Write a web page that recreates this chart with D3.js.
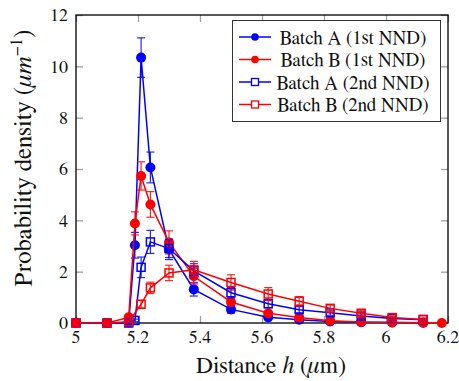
<!DOCTYPE html>
<html>
<head>
<meta charset="utf-8">
<script src="https://cdn.jsdelivr.net/npm/d3@7"></script>
<style>
  html, body { margin: 0; padding: 0; background: #fff; }
  svg { display: block; }
</style>
</head>
<body>
<svg id="chart" width="459" height="381"></svg>
<script>
// Nearest-neighbour distance distributions (probability density, 1/um)
const xTicks = [5, 5.2, 5.4, 5.6, 5.8, 6, 6.2];
const yTicks = [0, 2, 4, 6, 8, 10, 12];

const batchA1stX = [5.0, 5.1, 5.17, 5.19, 5.21, 5.24, 5.30, 5.38, 5.50, 5.62, 5.72, 5.82, 5.92, 6.02, 6.12];
const batchA1stY = [0, 0, 0.02, 3.03, 10.34, 6.06, 2.87, 1.31, 0.53, 0.22, 0.13, 0.06, 0.03, 0.02, 0.01];
const batchA1stErr = [0, 0, 0.05, 0.5, 0.77, 0.6, 0.4, 0.26, 0.15, 0.08, 0.05, 0.03, 0.02, 0.01, 0.01];

const batchB1stX = [5.0, 5.1, 5.17, 5.19, 5.21, 5.24, 5.30, 5.38, 5.50, 5.62, 5.72, 5.82, 5.92, 6.02, 6.12, 6.18];
const batchB1stY = [0, 0, 0.22, 3.88, 5.73, 4.62, 3.14, 1.82, 0.82, 0.38, 0.21, 0.09, 0.04, 0.02, 0.01, 0];
const batchB1stErr = [0, 0, 0.1, 0.45, 0.55, 0.5, 0.45, 0.3, 0.15, 0.08, 0.05, 0.03, 0.02, 0.01, 0.01, 0];

const batchA2ndX = [5.0, 5.1, 5.17, 5.19, 5.21, 5.24, 5.30, 5.38, 5.50, 5.62, 5.72, 5.82, 5.92, 6.02, 6.12];
const batchA2ndY = [0, 0, 0, 0.1, 2.17, 3.16, 2.9, 2.03, 1.18, 0.75, 0.52, 0.4, 0.27, 0.18, 0.13];
const batchA2ndErr = [0, 0, 0.02, 0.05, 0.4, 0.45, 0.35, 0.28, 0.2, 0.15, 0.12, 0.1, 0.08, 0.06, 0.05];

const batchB2ndX = [5.0, 5.1, 5.17, 5.21, 5.24, 5.30, 5.38, 5.50, 5.62, 5.72, 5.82, 5.92, 6.02, 6.12];
const batchB2ndY = [0, 0, 0.05, 0.73, 1.37, 1.95, 2.07, 1.58, 1.13, 0.85, 0.57, 0.38, 0.21, 0.14];
const batchB2ndErr = [0, 0, 0.03, 0.15, 0.22, 0.3, 0.33, 0.3, 0.25, 0.18, 0.13, 0.1, 0.07, 0.05];

const seriesNames = ["Batch A (1st NND)", "Batch B (1st NND)", "Batch A (2nd NND)", "Batch B (2nd NND)"];

const series = [
  { name: seriesNames[0], xs: batchA1stX, ys: batchA1stY, es: batchA1stErr, color: "#0000ff", marker: "circle" },
  { name: seriesNames[1], xs: batchB1stX, ys: batchB1stY, es: batchB1stErr, color: "#ff0000", marker: "circle" },
  { name: seriesNames[2], xs: batchA2ndX, ys: batchA2ndY, es: batchA2ndErr, color: "#0000ff", marker: "square" },
  { name: seriesNames[3], xs: batchB2ndX, ys: batchB2ndY, es: batchB2ndErr, color: "#ff0000", marker: "square" }
];

const FONT = "FreeSerif, 'Nimbus Roman', 'Times New Roman', serif";
const plot = { left: 76, right: 448, top: 15, bottom: 323 };
const svg = d3.select("#chart");

const x = d3.scaleLinear().domain([5, 6.2]).range([plot.left, plot.right]);
const y = d3.scaleLinear().domain([0, 12]).range([plot.bottom, plot.top]);

const tickLen = 7;
const tickColor = "#a0a0a0";

// inward ticks on all four sides
const axes = svg.append("g");
axes.append("g").attr("transform", `translate(0,${plot.bottom})`)
  .call(d3.axisTop(x).tickValues(xTicks).tickSize(tickLen).tickFormat(""));
axes.append("g").attr("transform", `translate(0,${plot.top})`)
  .call(d3.axisBottom(x).tickValues(xTicks).tickSize(tickLen).tickFormat(""));
axes.append("g").attr("transform", `translate(${plot.left},0)`)
  .call(d3.axisRight(y).tickValues(yTicks).tickSize(tickLen).tickFormat(""));
axes.append("g").attr("transform", `translate(${plot.right},0)`)
  .call(d3.axisLeft(y).tickValues(yTicks).tickSize(tickLen).tickFormat(""));
axes.selectAll(".domain").remove();
axes.selectAll(".tick line").attr("stroke", tickColor).attr("stroke-width", 1.3);

// frame
svg.append("rect")
  .attr("x", plot.left).attr("y", plot.top)
  .attr("width", plot.right - plot.left).attr("height", plot.bottom - plot.top)
  .attr("fill", "none").attr("stroke", "#000").attr("stroke-width", 1.3);

const labels = svg.append("g").style("font-family", FONT).attr("fill", "#111");

// tick labels
labels.append("g").selectAll("text").data(xTicks).join("text")
  .attr("x", d => x(d)).attr("y", 343)
  .attr("text-anchor", "middle").attr("font-size", 18)
  .text(d => d3.format("~g")(d));
labels.append("g").selectAll("text").data(yTicks).join("text")
  .attr("x", 68).attr("y", d => y(d)).attr("dy", "0.35em")
  .attr("text-anchor", "end").attr("font-size", 18)
  .text(d => d);

// axis titles
const xt = labels.append("text").attr("x", 271).attr("y", 373).attr("text-anchor", "middle").attr("font-size", 23.5);
xt.append("tspan").text("Distance ");
xt.append("tspan").attr("font-style", "italic").text("h");
xt.append("tspan").text(" (");
xt.append("tspan").attr("font-style", "italic").text("μ");
xt.append("tspan").text("m)");

const yt = labels.append("text").attr("transform", "translate(31,158) rotate(-90)")
  .attr("text-anchor", "middle").attr("font-size", 25);
yt.append("tspan").text("Probability density (");
yt.append("tspan").attr("font-style", "italic").text("μm");
yt.append("tspan").attr("font-size", 17).attr("dy", -9).text("−1");
yt.append("tspan").attr("dy", 9).text(")");

// series
const line = d3.line().x(d => x(d.x)).y(d => y(d.y));
const capW = 4;
series.forEach(s => {
  const pts = s.xs.map((xv, i) => ({ x: xv, y: s.ys[i], e: s.es[i] }));
  const g = svg.append("g");
  g.append("path").datum(pts).attr("d", line)
    .attr("fill", "none").attr("stroke", s.color).attr("stroke-width", 1.5);
  const eb = g.append("g").attr("stroke", s.color).attr("stroke-width", 1.2).attr("opacity", 0.85);
  pts.filter(d => d.e > 0).forEach(d => {
    const cx = x(d.x), y1 = y(d.y + d.e), y0 = y(Math.max(0, d.y - d.e));
    eb.append("line").attr("x1", cx).attr("x2", cx).attr("y1", y1).attr("y2", y0);
    eb.append("line").attr("x1", cx - capW).attr("x2", cx + capW).attr("y1", y1).attr("y2", y1);
    eb.append("line").attr("x1", cx - capW).attr("x2", cx + capW).attr("y1", y0).attr("y2", y0);
  });
  if (s.marker === "circle") {
    g.selectAll("circle").data(pts).join("circle")
      .attr("cx", d => x(d.x)).attr("cy", d => y(d.y)).attr("r", 5)
      .attr("fill", s.color);
  } else {
    const sz = 8;
    g.selectAll("rect").data(pts).join("rect")
      .attr("x", d => x(d.x) - sz / 2).attr("y", d => y(d.y) - sz / 2)
      .attr("width", sz).attr("height", sz)
      .attr("fill", "none").attr("stroke", s.color).attr("stroke-width", 1.5);
  }
});

// legend
const lg = svg.append("g");
lg.append("rect").attr("x", 232.5).attr("y", 20.5).attr("width", 208).attr("height", 101)
  .attr("fill", "#fff").attr("stroke", "#333").attr("stroke-width", 1);
const rowY = [37, 59.5, 82, 104.5];
series.forEach((s, i) => {
  const yy = rowY[i];
  lg.append("line").attr("x1", 239).attr("x2", 271).attr("y1", yy).attr("y2", yy)
    .attr("stroke", s.color).attr("stroke-width", 1.5);
  if (s.marker === "circle") {
    lg.append("circle").attr("cx", 255).attr("cy", yy).attr("r", 3.8).attr("fill", s.color);
  } else {
    lg.append("rect").attr("x", 251.5).attr("y", yy - 3.5).attr("width", 7).attr("height", 7)
      .attr("fill", "#fff").attr("stroke", s.color).attr("stroke-width", 1.3);
  }
  lg.append("text").attr("x", 353).attr("y", yy).attr("dy", "0.35em")
    .style("font-family", FONT).attr("fill", "#111")
    .attr("text-anchor", "middle").attr("font-size", 19).text(s.name);
});
</script>
</body>
</html>
